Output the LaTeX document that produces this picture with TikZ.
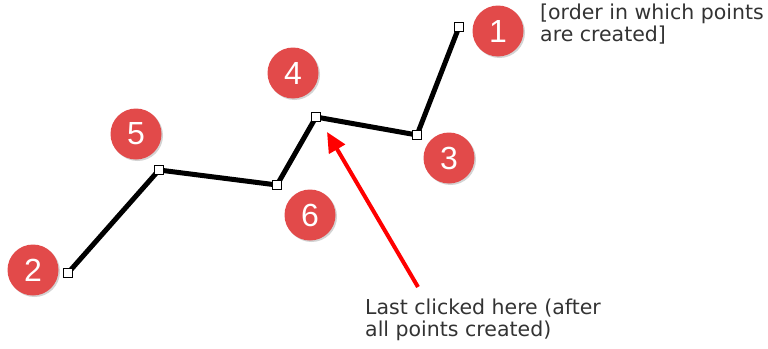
\documentclass[tikz,border=0pt]{standalone}
\usepackage{fontspec}
\setmainfont{DejaVu Sans}
\newfontfamily\numfont{Liberation Sans}
\usetikzlibrary{arrows.meta,shadows}
\definecolor{badge}{HTML}{E24A4A}
\definecolor{txt}{HTML}{333333}
\tikzset{
  badgenode/.style={circle, fill=badge, minimum size=51pt, inner sep=0pt, text=white,
    font=\numfont\fontsize{32}{32}\selectfont,
    drop shadow={shadow xshift=1.5pt, shadow yshift=-1.5pt, opacity=0.35}},
  vertex/.style={rectangle, draw=black, fill=white, line width=1.2pt, minimum size=9pt, inner sep=0pt},
  polyline/.style={line width=5pt, black},
  note/.style={text=txt, font=\fontsize{20.5}{22}\selectfont, align=left, anchor=north west, inner sep=0pt},
  redarrow/.style={red, line width=4pt, -{Triangle[length=20pt,width=18pt]}}
}
\begin{document}
\begin{tikzpicture}[x=1pt,y=-1pt]
\useasboundingbox (0,0) rectangle (768,348);
% points
\coordinate (p1) at (459,27);
\coordinate (p3) at (417,135);
\coordinate (p4) at (316,117);
\coordinate (p6) at (277,185);
\coordinate (p5) at (159,170);
\coordinate (p2) at (68,273);
\draw[polyline, line join=miter] (p2) -- (p5) -- (p6) -- (p4) -- (p3) -- (p1);
\foreach \p in {p1,p2,p3,p4,p5,p6} { \node[vertex] (v\p) at (\p) {}; }
% badges
\node[badgenode] (b1) at (498,31) {1};
\node[badgenode] (b2) at (33,270) {2};
\node[badgenode] (b3) at (449,158) {3};
\node[badgenode] (b4) at (293,73) {4};
\node[badgenode] (b5) at (136,134) {5};
\node[badgenode] (b6) at (310,215) {6};
% notes
\node[note] (n1) at (540,4) {[order in which points\\are created]};
\node[note] (n2) at (365,299) {Last clicked here (after\\all points created)};
% arrow
\coordinate (tip) at (327,132);
\coordinate (tail) at (418,287);
\draw[redarrow] (tail) -- (tip);
\end{tikzpicture}
\end{document}
